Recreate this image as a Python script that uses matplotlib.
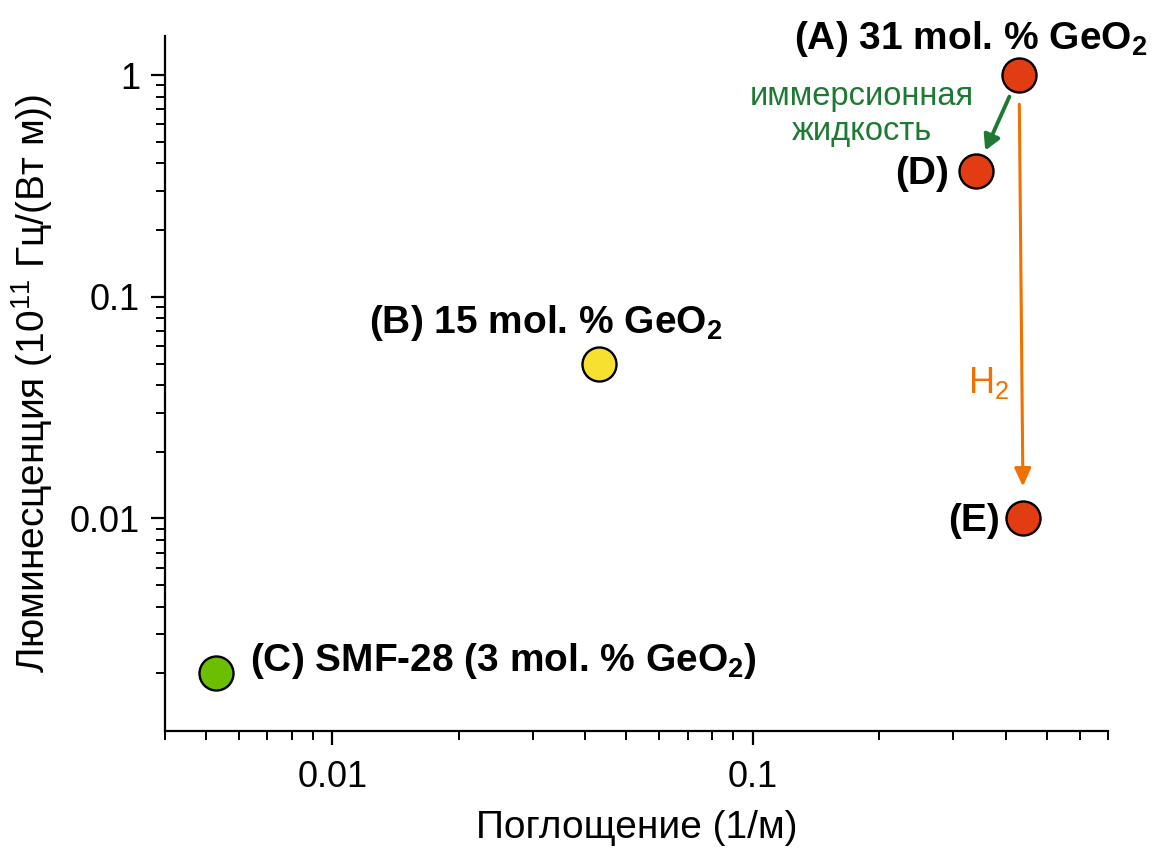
import matplotlib
matplotlib.use("Agg")
import matplotlib.pyplot as plt
from matplotlib.ticker import LogLocator, NullFormatter, FixedLocator, FixedFormatter

# --- data -------------------------------------------------------------
labels = ["(A) 31 mol. % GeO$_2$", "(B) 15 mol. % GeO$_2$",
          "(C) SMF-28 (3 mol. % GeO$_2$)", "(D)", "(E)"]
absorption = [0.43, 0.043, 0.0053, 0.34, 0.44]        # 1/m
luminescence = [1.0, 0.05, 0.002, 0.37, 0.01]         # 1e11 Hz/(W m)
colors = ["#E23C12", "#F7E030", "#6CBF00", "#E23C12", "#E23C12"]

x_ticks = [0.01, 0.1]
x_ticklabels = ["0.01", "0.1"]
y_ticks = [0.01, 0.1, 1]
y_ticklabels = ["0.01", "0.1", "1"]

plt.rcParams["font.family"] = ["Liberation Sans", "DejaVu Sans"]
plt.rcParams["mathtext.default"] = "regular"

fig = plt.figure(figsize=(11.59, 8.5), dpi=100)
ax = fig.add_axes([0.1424, 0.140, 0.956 - 0.1424, 0.9576 - 0.140])
ax.set_xscale("log")
ax.set_yscale("log")
ax.set_xlim(0.004, 0.7)
ax.set_ylim(0.0011, 1.5)

for s in ("top", "right"):
    ax.spines[s].set_visible(False)
for s in ("left", "bottom"):
    ax.spines[s].set_linewidth(1.6)

ax.xaxis.set_major_locator(FixedLocator(x_ticks))
ax.xaxis.set_major_formatter(FixedFormatter(x_ticklabels))
ax.yaxis.set_major_locator(FixedLocator(y_ticks))
ax.yaxis.set_major_formatter(FixedFormatter(y_ticklabels))
ax.xaxis.set_minor_locator(LogLocator(base=10, subs=range(2, 10)))
ax.yaxis.set_minor_locator(LogLocator(base=10, subs=range(2, 10)))
ax.xaxis.set_minor_formatter(NullFormatter())
ax.yaxis.set_minor_formatter(NullFormatter())
ax.tick_params(which="major", direction="out", length=10, width=1.6)
ax.tick_params(which="minor", direction="out", length=6.5, width=1.4)
ax.tick_params(axis="y", labelsize=26, pad=8)
ax.tick_params(axis="x", labelsize=26, pad=11)

ax.set_xlabel("Поглощение (1/м)", fontsize=28, labelpad=11)
ax.set_ylabel("Люминесценция (10$^{11}$ Гц/(Вт м))", fontsize=28, labelpad=11)

# --- points ------------------------------------------------------------
for x, y, c in zip(absorption, luminescence, colors):
    ax.plot([x], [y], "o", ms=24.5, mfc=c, mec="black", mew=1.7,
            zorder=5, clip_on=False)

# point labels, placed relative to each point
offsets = [(-35, 26, "center"), (-38, 29, "center"), (24, 9, "left"),
           (-19.5, -2, "right"), (-17, -2, "right")]
for lab, x, y, (dx, dy, ha) in zip(labels, absorption, luminescence, offsets):
    ax.annotate(lab, xy=(x, y), xytext=(dx, dy), textcoords="offset points",
                ha=ha, va="center", fontsize=28, fontweight="bold",
                annotation_clip=False)

# immersion liquid: A -> D
ax.annotate("", xy=(absorption[3], luminescence[3]), xytext=(absorption[0], luminescence[0]),
            arrowprops=dict(arrowstyle="-|>,head_length=0.9,head_width=0.5",
                            color="#1E7A32", lw=2.8, shrinkA=17, shrinkB=16))
ax.annotate("иммерсионная\nжидкость", xy=(absorption[0], luminescence[0]),
            xytext=(-113, -28), textcoords="offset points", ha="center",
            va="center", fontsize=23.5, color="#1E7A32", linespacing=1.15)

# hydrogen loading: A -> E
ax.annotate("", xy=(absorption[4], luminescence[4]), xytext=(absorption[0], luminescence[0]),
            arrowprops=dict(arrowstyle="-|>,head_length=1.1,head_width=0.5",
                            color="#F07000", lw=2.2, shrinkA=21, shrinkB=23))
ax.annotate("H$_2$", xy=(absorption[0], luminescence[0]), xytext=(-22, -222),
            textcoords="offset points", ha="center", va="center",
            fontsize=26, color="#F07000")

fig.savefig("out.png", dpi=100)
